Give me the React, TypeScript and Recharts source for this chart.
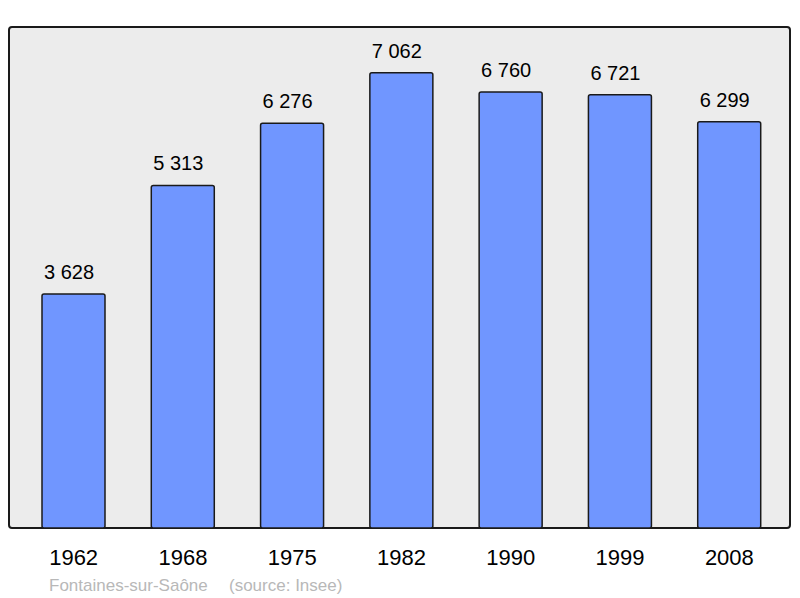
import React from "react";
import { BarChart, Bar, XAxis, YAxis, LabelList } from "recharts";

const years = ["1962", "1968", "1975", "1982", "1990", "1999", "2008"];
const population = [3628, 5313, 6276, 7062, 6760, 6721, 6299];
const yMax = 7770;
const commune = "Fontaines-sur-Saône";
const source = "(source: Insee)";

const data = years.map((year, i) => ({ year, value: population[i] }));

const fmt = (v: number) => String(v).replace(/\B(?=(\d{3})+(?!\d))/g, " ");

const FONT = "'Liberation Sans', Arial, sans-serif";

const ValueLabel = (props: any) => {
  const { x, y, width, value } = props;
  return (
    <text x={Number(x) + Number(width) / 2 - 4.5} y={Number(y) - 15} textAnchor="middle" fontSize={20} fill="#000" fontFamily={FONT}>
      {fmt(Number(value))}
    </text>
  );
};

export default function App() {
  return (
    <div style={{ position: "fixed", left: 0, top: 0, width: 800, height: 598, background: "#fff" }}>
      <svg width={800} height={598} style={{ position: "absolute", left: 0, top: 0 }}>
        <rect x={9} y={27} width={781} height={501} rx={3} ry={3} fill="#ececec" stroke="#1a1a1a" strokeWidth={2} />
        <text x={49} y={590.5} fontFamily={FONT} fontSize={17} fill="#b8b8b8">{commune}</text>
        <text x={229} y={590.5} fontFamily={FONT} fontSize={17} fill="#b8b8b8">{source}</text>
      </svg>
      <div style={{ position: "absolute", left: 0, top: 0 }}>
        <BarChart width={800} height={598} data={data} margin={{ top: 27, right: 10, left: 9, bottom: 0 }}>
          <YAxis hide domain={[0, yMax]} allowDataOverflow />
          <XAxis
            dataKey="year"
            height={70}
            padding={{ left: 10, right: 6 }}
            axisLine={false}
            tickLine={false}
            tickSize={0}
            tickMargin={21}
            tick={{ fontSize: 22, fill: "#000", fontFamily: FONT }}
            interval={0}
          />
          <Bar dataKey="value" barSize={63} fill="#7096ff" stroke="#1a1a1a" strokeWidth={1.5} radius={2} isAnimationActive={false}>
            <LabelList dataKey="value" content={ValueLabel} />
          </Bar>
        </BarChart>
      </div>
    </div>
  );
}
